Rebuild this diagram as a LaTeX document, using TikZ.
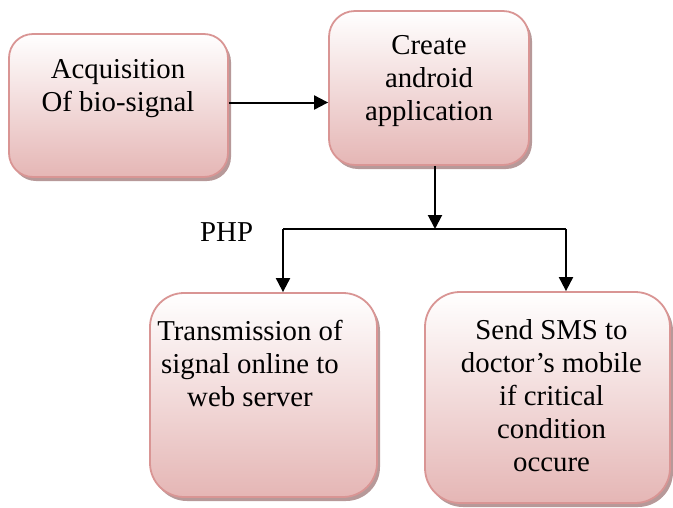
\documentclass[tikz,border=0pt]{standalone}
\usepackage{fontspec}
\setmainfont{Liberation Serif}
\usetikzlibrary{arrows.meta,shadows}
\definecolor{boxedge}{RGB}{217,149,148}
\definecolor{boxbot}{RGB}{229,182,181}
\definecolor{shadowc}{RGB}{165,128,128}
\tikzset{
  flowbox/.style={draw=boxedge, line width=1.8pt, top color=white, bottom color=boxbot,
    shading angle=0, inner sep=0pt,
    drop shadow={shadow xshift=3pt, shadow yshift=-4pt, fill=shadowc, opacity=0.8}},
  boxtext/.style={anchor=north, inner sep=0pt, align=center,
    font=\fontsize{28.8pt}{33pt}\selectfont},
  conn/.style={line width=2pt, -{Triangle[length=14pt,width=14pt]}},
  plainconn/.style={line width=2pt}
}
\begin{document}
\begin{tikzpicture}[x=1pt,y=-1pt]
\useasboundingbox (0,0) rectangle (673,507);
% boxes
\node[flowbox, rounded corners=24pt, minimum width=219pt, minimum height=143pt] (b1) at (118.5,105.5) {};
\node[flowbox, rounded corners=26pt, minimum width=200pt, minimum height=154pt] (b2) at (429,88) {};
\node[flowbox, rounded corners=34pt, minimum width=227pt, minimum height=204pt] (b3) at (263.5,395) {};
\node[flowbox, rounded corners=35pt, minimum width=245pt, minimum height=211pt] (b4) at (547.5,397.5) {};
% texts
\node[boxtext] (t1) at (118,59.5) {Acquisition\\Of bio-signal};
\node[boxtext] (t2) at (429,35.7) {Create\\android\\application};
\node[boxtext] (t3) at (250,320.5) {Transmission of\\signal online to\\web server};
\node[boxtext] (t4) at (551.5,319.5) {Send SMS to\\doctor’s mobile\\if critical\\condition\\occure};
\node[anchor=base west, inner sep=0pt, font=\fontsize{28.8pt}{33pt}\selectfont] (php) at (200,241) {PHP};
% connectors
\coordinate (j) at (435,229);
\coordinate (l) at (283,229);
\coordinate (r) at (566,229);
\draw[conn] (b1.east) ++(0,-3) coordinate (a0) -- (a0 -| b2.west);
\draw[conn] (b2.south -| j) -- (j);
\draw[plainconn] (l) -- (r);
\draw[conn] (l) -- (l |- b3.north);
\draw[conn] (r) -- (r |- b4.north);
\end{tikzpicture}
\end{document}
